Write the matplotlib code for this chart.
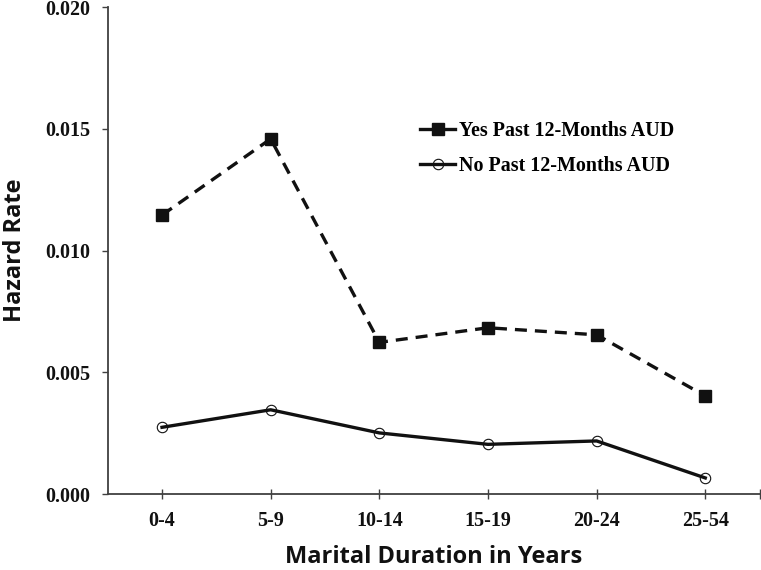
import matplotlib
matplotlib.use("Agg")
from matplotlib import pyplot as plt
from matplotlib.lines import Line2D

# Hazard rates
durations = ["0-4", "5-9", "10-14", "15-19", "20-24", "25-54"]
yes_aud = [0.01146, 0.01459, 0.00623, 0.00683, 0.00654, 0.00403]
no_aud = [0.00274, 0.00346, 0.00251, 0.00204, 0.00218, 0.00066]
y_ticks = [0.000, 0.005, 0.010, 0.015, 0.020]

ink = "#111111"
axis_gray = "#404040"
serif = "Liberation Serif"
sans = "Open Sans"

fig = plt.figure(figsize=(7.61, 5.70), dpi=100)
ax = fig.add_axes([107.7 / 761, 1 - 494 / 570, (759.6 - 107.7) / 761, (494 - 7.2) / 570])

x = list(range(len(durations)))
ax.plot(x, yes_aud, color=ink, linewidth=2.4, dashes=(3.6, 2.4),
        marker="s", markersize=8.5, markerfacecolor=ink, markeredgecolor=ink)
ax.plot(x, no_aud, color=ink, linewidth=2.4,
        marker="o", markersize=7.5, markerfacecolor="none",
        markeredgecolor=ink, markeredgewidth=0.8)

ax.set_xlim(-0.5, 5.5)
ax.set_ylim(0, 0.020)

for side in ["top", "right"]:
    ax.spines[side].set_visible(False)
for side in ["left", "bottom"]:
    ax.spines[side].set_color(axis_gray)
    ax.spines[side].set_linewidth(1.3)

ax.set_xticks(x)
ax.set_xticklabels(durations)
ax.set_xticks([5.5], minor=True)
ax.set_yticks(y_ticks)
ax.set_yticklabels(["%.3f" % v for v in y_ticks])

ax.tick_params(axis="x", which="both", direction="inout", length=6.5, width=1.0,
               color=axis_gray, pad=9)
ax.tick_params(axis="y", direction="out", length=4.3, width=1.0,
               color=axis_gray, pad=8)
for lbl in ax.get_xticklabels() + ax.get_yticklabels():
    lbl.set_fontfamily(serif)
    lbl.set_fontweight("bold")
    lbl.set_fontsize(14.4)
    lbl.set_color(ink)

ax.set_xlabel("Marital Duration in Years", fontfamily=sans, fontweight="bold",
              fontsize=17, color=ink)
ax.xaxis.set_label_coords(0.5, -0.105)
ax.set_ylabel("Hazard Rate", fontfamily=sans, fontweight="bold",
              fontsize=17, color=ink)
ax.yaxis.set_label_coords(-0.124, 0.5)

handles = [
    Line2D([], [], color=ink, linewidth=2.4, marker="s", markersize=8.5,
           markerfacecolor=ink, markeredgecolor=ink),
    Line2D([], [], color=ink, linewidth=2.4, marker="o", markersize=7.5,
           markerfacecolor="none", markeredgecolor=ink, markeredgewidth=0.8),
]
fig.legend(handles, ["Yes Past 12-Months AUD", "No Past 12-Months AUD"],
           loc="upper left", bbox_to_anchor=(420 / 761, 1 - 121 / 570),
           frameon=False, borderpad=0, borderaxespad=0,
           handlelength=1.75, handletextpad=0.2, labelspacing=0.75,
           prop={"family": serif, "weight": "bold", "size": 14.4})

fig.savefig("out.png", dpi=100)
